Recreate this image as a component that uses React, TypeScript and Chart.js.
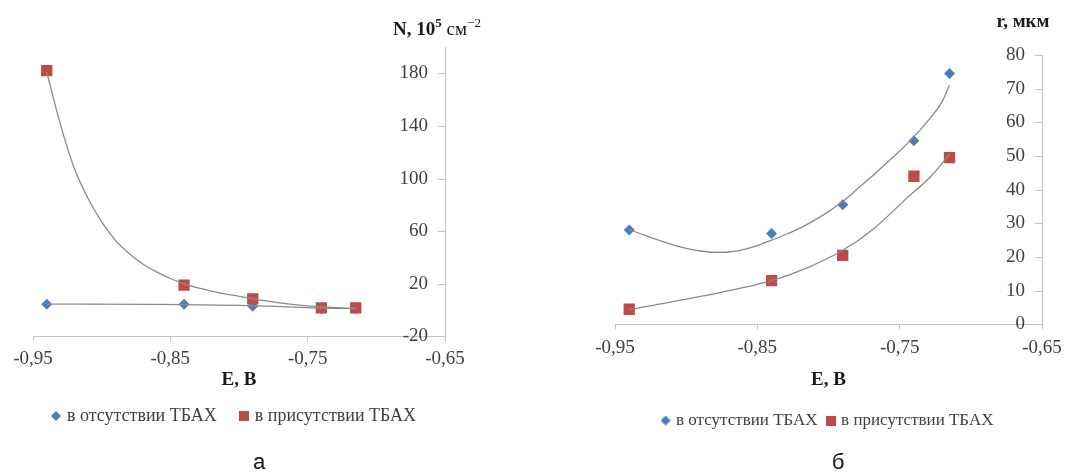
import React, { useEffect, useRef } from 'react';
import { Chart, registerables } from 'chart.js';

Chart.register(...registerables);

// ---- shared data ----
const E_VALUES = [-0.94, -0.84, -0.79, -0.74, -0.715];
const E_TICKS = [-0.95, -0.85, -0.75, -0.65];
const SERIES_LABELS = ['в отсутствии ТБАХ', 'в присутствии ТБАХ'];
const X_TITLE = 'E, В';
const PANEL_LETTERS = ['а', 'б'];

// ---- chart а : N, 10^5 см^-2 ----
const N_WITHOUT = [4.5, 4.5, 3, 1, 1];
const N_WITH = [182, 19, 8.5, 1.7, 1.7];
const N_TICKS = [-20, 20, 60, 100, 140, 180];
const N_TREND_WITHOUT_E = [-0.94, -0.86, -0.8, -0.765, -0.74, -0.715];
const N_TREND_WITHOUT = [4.5, 4.3, 3.6, 2.5, 1.6, 1.2];
const N_TREND_WITH_E = [-0.94, -0.93, -0.92, -0.91, -0.9, -0.89, -0.88, -0.87, -0.86, -0.85, -0.84, -0.82, -0.8, -0.78, -0.76, -0.74, -0.715];
const N_TREND_WITH = [181, 141, 108, 85, 67, 53, 43, 35, 29, 24, 20, 14.5, 10.5, 7, 4.2, 2.4, 1.2];

// ---- chart б : r, мкм ----
const R_WITHOUT = [28, 27, 35.5, 54.5, 74.5];
const R_WITH = [4.5, 13, 20.5, 44, 49.5];
const R_TICKS = [0, 10, 20, 30, 40, 50, 60, 70, 80];
const R_TREND_WITHOUT_E = [-0.94, -0.93, -0.92, -0.91, -0.9, -0.89, -0.88, -0.87, -0.86, -0.85, -0.84, -0.83, -0.82, -0.81, -0.8, -0.79, -0.78, -0.77, -0.76, -0.75, -0.74, -0.73, -0.72, -0.715];
const R_TREND_WITHOUT = [28.2, 26.6, 25.1, 23.7, 22.6, 21.8, 21.4, 21.5, 22.2, 23.4, 25, 26.7, 28.6, 30.9, 33.5, 36.5, 40.1, 43.8, 47.6, 51.5, 55.7, 60.5, 66.3, 71];
const R_TREND_WITH_E = [-0.94, -0.89, -0.84, -0.815, -0.79, -0.768, -0.745, -0.728, -0.715];
const R_TREND_WITH = [4.4, 8.3, 13, 16.8, 22, 28.5, 37.5, 44, 50.5];

const BLUE = '#4a7ebb';
const RED = '#be4b48';
const TREND = '#8a8a8a';
const AXIS = '#c4c4c4';
const TXT = '#404040';
const FONT = "'Liberation Serif', 'Times New Roman', serif";

type Part = { t: string; bold: boolean; size: number; dy?: number };

function pts(xs: number[], ys: number[]) {
  return xs.map((x, i) => ({ x, y: ys[i] }));
}

function makeIcon(shape: 'diamond' | 'square', color: string, size: number) {
  const c = document.createElement('canvas');
  c.width = size;
  c.height = size;
  const g = c.getContext('2d')!;
  g.fillStyle = color;
  if (shape === 'diamond') {
    g.beginPath();
    g.moveTo(size / 2, 0);
    g.lineTo(size, size / 2);
    g.lineTo(size / 2, size);
    g.lineTo(0, size / 2);
    g.closePath();
    g.fill();
  } else {
    g.fillRect(0, 0, size, size);
  }
  return c;
}

function makeExtras(parts: Part[], centerOffset: number, baseline: number) {
  return {
    id: 'axisExtras',
    afterDraw(chart: any) {
      const { ctx, chartArea } = chart;
      const ys = chart.scales.y;
      ctx.save();
      ctx.strokeStyle = AXIS;
      ctx.lineWidth = 1;
      ys.ticks.forEach((t: any) => {
        const py = Math.round(ys.getPixelForValue(t.value)) + 0.5;
        ctx.beginPath();
        ctx.moveTo(chartArea.right - 7, py);
        ctx.lineTo(chartArea.right, py);
        ctx.stroke();
      });
      // axis title above the vertical axis
      let total = 0;
      const widths = parts.map((p) => {
        ctx.font = `${p.bold ? 'bold ' : ''}${p.size}px ${FONT}`;
        const w = ctx.measureText(p.t).width;
        total += w;
        return w;
      });
      let x = chartArea.right + centerOffset - total / 2;
      ctx.fillStyle = '#1a1a1a';
      ctx.textBaseline = 'alphabetic';
      ctx.textAlign = 'left';
      parts.forEach((p, i) => {
        ctx.font = `${p.bold ? 'bold ' : ''}${p.size}px ${FONT}`;
        ctx.fillText(p.t, x, baseline + (p.dy || 0));
        x += widths[i];
      });
      ctx.restore();
    },
  };
}

type Spec = {
  without: number[];
  withT: number[];
  trendWithoutE: number[];
  trendWithout: number[];
  trendWithE: number[];
  trendWith: number[];
  yMin: number;
  yMax: number;
  yTicks: number[];
  padding: any;
  leftGap: number;
  rightGap: number;
  legendPad: number;
  legendFont: number;
  tickPad: number;
  titlePad: any;
  parts: Part[];
  titleOffset: number;
  titleBaseline: number;
};

function buildConfig(s: Spec): any {
  const icons = [makeIcon('diamond', BLUE, 10), makeIcon('square', RED, 10)];
  const scales: any = {
    x: {
      type: 'linear',
      min: -0.95,
      max: -0.65,
      afterBuildTicks: (sc: any) => {
        sc.ticks = E_TICKS.map((value) => ({ value }));
      },
      border: { color: AXIS, width: 1 },
      grid: { drawOnChartArea: false, drawTicks: true, tickLength: 5, color: AXIS },
      ticks: {
        font: { family: FONT, size: 19 },
        color: TXT,
        padding: s.tickPad,
        maxRotation: 0,
        autoSkip: false,
        callback: (v: number) => v.toFixed(2).replace('.', ','),
      },
      title: {
        display: true,
        text: X_TITLE,
        font: { family: FONT, size: 19, weight: 'bold' },
        color: '#1a1a1a',
        padding: s.titlePad,
      },
    },
    y: {
      type: 'linear',
      position: 'right',
      min: s.yMin,
      max: s.yMax,
      afterBuildTicks: (sc: any) => {
        sc.ticks = s.yTicks.map((value) => ({ value }));
      },
      afterFit: (sc: any) => {
        sc.width = s.rightGap;
      },
      border: { color: AXIS, width: 1 },
      grid: { display: false },
      ticks: {
        mirror: true,
        padding: -17,
        font: { family: FONT, size: 19 },
        color: TXT,
        callback: (v: number) => String(v),
      },
    },
  };
  if (s.leftGap > 0) {
    // empty spacer on the left so the legend can use the full width
    scales.spacer = {
      type: 'linear',
      axis: 'y',
      position: 'left',
      display: true,
      grid: { display: false },
      border: { display: false },
      ticks: { display: false },
      afterFit: (sc: any) => {
        sc.width = s.leftGap;
      },
    };
  }
  return {
    type: 'scatter',
    data: {
      datasets: [
        {
          label: SERIES_LABELS[0],
          data: pts(E_VALUES, s.without),
          pointStyle: 'rectRot',
          pointRadius: 5.5,
          pointHoverRadius: 5.5,
          backgroundColor: BLUE,
          borderColor: BLUE,
          borderWidth: 0,
          order: 2,
        },
        {
          label: SERIES_LABELS[1],
          data: pts(E_VALUES, s.withT),
          pointStyle: 'rect',
          pointRadius: 8,
          pointHoverRadius: 8,
          backgroundColor: RED,
          borderColor: RED,
          borderWidth: 0,
          order: 1,
        },
        {
          label: 'trend-without',
          data: pts(s.trendWithoutE, s.trendWithout),
          showLine: true,
          pointRadius: 0,
          borderColor: TREND,
          borderWidth: 1.3,
          cubicInterpolationMode: 'monotone',
          fill: false,
          order: 0,
        },
        {
          label: 'trend-with',
          data: pts(s.trendWithE, s.trendWith),
          showLine: true,
          pointRadius: 0,
          borderColor: TREND,
          borderWidth: 1.3,
          cubicInterpolationMode: 'monotone',
          fill: false,
          order: 0,
        },
      ],
    },
    options: {
      animation: false,
      responsive: false,
      maintainAspectRatio: false,
      events: [],
      layout: { padding: s.padding },
      scales,
      plugins: {
        legend: {
          position: 'bottom',
          labels: {
            usePointStyle: true,
            boxWidth: 4,
            boxHeight: 10,
            padding: s.legendPad,
            font: { family: FONT, size: s.legendFont },
            color: TXT,
            generateLabels: (chart: any) => {
              const base = (Chart as any).defaults.plugins.legend.labels.generateLabels(chart);
              return base
                .filter((i: any) => i.datasetIndex < 2)
                .sort((a: any, b: any) => a.datasetIndex - b.datasetIndex)
                .map((i: any) => ({ ...i, pointStyle: icons[i.datasetIndex] }));
            },
          },
        },
        tooltip: { enabled: false },
        title: { display: false },
      },
    },
    plugins: [makeExtras(s.parts, s.titleOffset, s.titleBaseline)],
  };
}

function ChartCanvas({ spec, width, height, left }: { spec: Spec; width: number; height: number; left: number }) {
  const ref = useRef<HTMLCanvasElement | null>(null);
  useEffect(() => {
    if (!ref.current) return;
    const chart = new Chart(ref.current, buildConfig(spec));
    return () => chart.destroy();
  }, [spec]);
  return (
    <canvas
      ref={ref}
      width={width}
      height={height}
      style={{ position: 'absolute', left, top: 0, width, height }}
    />
  );
}

const SPEC_A: Spec = {
  without: N_WITHOUT,
  withT: N_WITH,
  trendWithoutE: N_TREND_WITHOUT_E,
  trendWithout: N_TREND_WITHOUT,
  trendWithE: N_TREND_WITH_E,
  trendWith: N_TREND_WITH,
  yMin: -20,
  yMax: 200,
  yTicks: N_TICKS,
  padding: { left: 0, right: 70, top: 47, bottom: 12 },
  leftGap: 33,
  rightGap: 25,
  legendPad: 25,
  legendFont: 18,
  tickPad: 6,
  titlePad: { top: -8, bottom: -9 },
  parts: [
    { t: 'N, 10', bold: true, size: 19 },
    { t: '5', bold: true, size: 13, dy: -8 },
    { t: ' см', bold: false, size: 19 },
    { t: '−2', bold: false, size: 13, dy: -8 },
  ],
  titleOffset: -8,
  titleBaseline: 35,
};

const SPEC_B: Spec = {
  without: R_WITHOUT,
  withT: R_WITH,
  trendWithoutE: R_TREND_WITHOUT_E,
  trendWithout: R_TREND_WITHOUT,
  trendWithE: R_TREND_WITH_E,
  trendWith: R_TREND_WITH,
  yMin: 0,
  yMax: 80,
  yTicks: R_TICKS,
  padding: { left: 75, right: 31, top: 55, bottom: 8 },
  leftGap: 0,
  rightGap: 0,
  legendPad: 11,
  legendFont: 17,
  tickPad: 7,
  titlePad: { top: 2, bottom: 10 },
  parts: [{ t: 'r, мкм', bold: true, size: 19 }],
  titleOffset: -19,
  titleBaseline: 27,
};

export default function App() {
  return (
    <div style={{ position: 'fixed', left: 0, top: 0, width: 1073, height: 473, background: '#fff', overflow: 'hidden' }}>
      <ChartCanvas spec={SPEC_A} width={540} height={447} left={0} />
      <ChartCanvas spec={SPEC_B} width={533} height={447} left={540} />
      <div style={{ position: 'absolute', left: 239, top: 449, width: 40, textAlign: 'center', font: "22px 'Liberation Sans', Arial, sans-serif", color: '#1a1a1a' }}>
        {PANEL_LETTERS[0]}
      </div>
      <div style={{ position: 'absolute', left: 818, top: 449, width: 40, textAlign: 'center', font: "22px 'Liberation Sans', Arial, sans-serif", color: '#1a1a1a' }}>
        {PANEL_LETTERS[1]}
      </div>
    </div>
  );
}
